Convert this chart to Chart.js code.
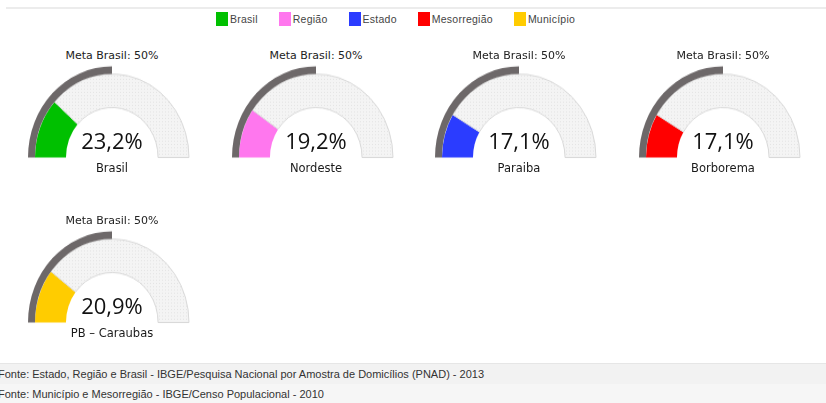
<!DOCTYPE html>
<html>
<head>
<meta charset="utf-8">
<script src="https://cdn.jsdelivr.net/npm/chart.js@4.4.0/dist/chart.umd.min.js"></script>
<style>
  html, body { margin: 0; padding: 0; background: #fff; }
  body { width: 826px; height: 403px; position: relative; overflow: hidden; font-family: "DejaVu Sans", sans-serif; }
  .topline { position: absolute; left: 6px; right: 0; top: 7px; height: 2px; background: #ececec; }
  #legend { position: absolute; left: 216px; top: 12px; display: flex; font: 10.5px "Liberation Sans", Arial, sans-serif; letter-spacing: 0.25px; color: #444; }
  #legend .item { display: flex; align-items: center; margin-right: 21px; }
  #legend .box { width: 12px; height: 14px; margin-right: 2px; }
  .gauge { position: absolute; width: 204px; height: 160px; }
  .gauge canvas { position: absolute; transform: scaleY(1.085); }
  .meta { position: absolute; width: 100%; text-align: center; font-size: 11px; color: #222; }
  .value { position: absolute; width: 100%; text-align: center; font: 22px "Open Sans", sans-serif; color: #111; }
  .label { position: absolute; width: 100%; text-align: center; font-size: 11.5px; color: #1a1a1a; }
  .fonte { position: absolute; left: 0; right: 0; height: 20px; font: 11px "Liberation Sans", Arial, sans-serif; color: #333; line-height: 20px; text-indent: -2px; }
</style>
</head>
<body>
<div class="topline"></div>
<div id="legend"></div>
<div id="gauges"></div>
<div class="fonte" style="top:363px;background:#f2f2f2;border-top:1px solid #e6e6e6">Fonte: Estado, Região e Brasil - IBGE/Pesquisa Nacional por Amostra de Domicílios (PNAD) - 2013</div>
<div class="fonte" style="top:384px;background:#f6f6f6">Fonte: Município e Mesorregião - IBGE/Censo Populacional - 2010</div>
<script>
// legend categories and colours
const categories = ["Brasil", "Região", "Estado", "Mesorregião", "Município"];
const categoryColors = ["#00c000", "#ff77ee", "#2b3cff", "#ff0000", "#ffcc00"];

// one gauge per place
const places = ["Brasil", "Nordeste", "Paraiba", "Borborema", "PB – Caraubas"];
const values = [23.2, 19.2, 17.1, 17.1, 20.9];
const meta = 50;
const metaLabel = "Meta Brasil: 50%";

// grid position of each gauge (center x, baseline y)
const centersX = [112, 316, 519, 723, 112];
const baselinesY = [157, 157, 157, 157, 322];

const legend = document.getElementById("legend");
categories.forEach((c, i) => {
    const item = document.createElement("div");
    item.className = "item";
    item.innerHTML = '<span class="box" style="background:' + categoryColors[i] + '"></span>' + c;
    legend.appendChild(item);
});

// dotted light grey fill
function makePattern() {
    const p = document.createElement("canvas");
    p.width = 3; p.height = 3;
    const c = p.getContext("2d");
    c.fillStyle = "#f4f4f4";
    c.fillRect(0, 0, 3, 3);
    c.fillStyle = "#e4e4e4";
    c.fillRect(0, 0, 1, 1);
    return c.createPattern(p, "repeat");
}

const R = 84;
const holder = document.getElementById("gauges");

places.forEach((place, i) => {
    const g = document.createElement("div");
    g.className = "gauge";
    g.style.left = (centersX[i] - 102) + "px";
    g.style.top = (baselinesY[i] - 110) + "px";

    const canvas = document.createElement("canvas");
    canvas.width = 2 * R + 2;
    canvas.height = R + 1;
    canvas.style.left = (102 - R - 1) + "px";
    canvas.style.top = (110 - R - 0.5) + "px";
    canvas.style.transformOrigin = "50% " + (R + 0.5) + "px";
    g.appendChild(canvas);

    g.insertAdjacentHTML("beforeend",
        '<div class="meta" style="top:2px">' + metaLabel + '</div>' +
        '<div class="value" style="top:78px">' + values[i].toFixed(1).replace(".", ",") + '%</div>' +
        '<div class="label" style="top:114px">' + place + '</div>');
    holder.appendChild(g);

    new Chart(canvas.getContext("2d"), {
        type: "doughnut",
        data: {
            labels: [place, ""],
            datasets: [
                {
                    data: [meta, 100 - meta],
                    backgroundColor: ["#6d6869", "rgba(0,0,0,0)"],
                    borderWidth: 0,
                    weight: 0.226,
                },
                {
                    data: [values[i], 100 - values[i]],
                    backgroundColor: [categoryColors[i], makePattern()],
                    borderColor: ["rgba(0,0,0,0)", "#d9d9d9"],
                    borderWidth: [0, 1],
                    weight: 1,
                },
            ],
        },
        options: {
            responsive: false,
            animation: false,
            rotation: -90,
            circumference: 180,
            radius: R,
            cutout: "54.8%",
            layout: { padding: 0 },
            plugins: {
                legend: { display: false },
                tooltip: { enabled: false },
            },
        },
    });
});
</script>
</body>
</html>
